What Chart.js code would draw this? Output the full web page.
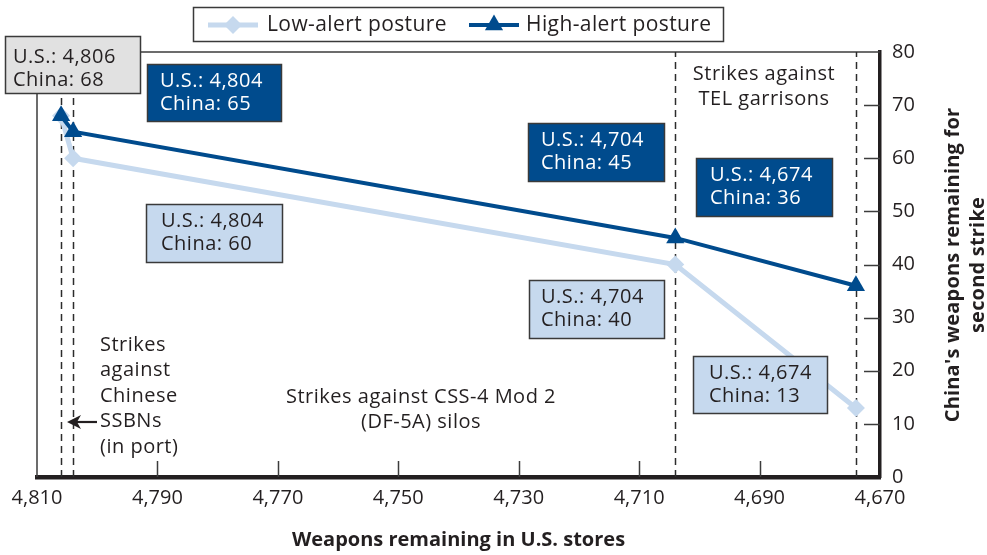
<!DOCTYPE html>
<html>
<head>
<meta charset="utf-8">
<title>Weapons remaining</title>
<script src="https://cdn.jsdelivr.net/npm/chart.js@4.4.0/dist/chart.umd.min.js"></script>
<style>
  body { margin: 0; background: #fff; }
  #wrap { width: 987px; height: 555px; position: relative; }
</style>
</head>
<body>
<div id="wrap"><canvas id="lineChart"></canvas></div>
<script>
var usStores = [4806, 4804, 4704, 4674];
var lowAlert = [68, 60, 40, 13];
var highAlert = [68, 65, 45, 36];
var seriesNames = ['Low-alert posture', 'High-alert posture'];
var xTickValues = [4810, 4790, 4770, 4750, 4730, 4710, 4690, 4670];
var yTickValues = [0, 10, 20, 30, 40, 50, 60, 70, 80];

var DARK = '#231f20';
var FRAME = '#3c3c3c';
var LOW_BLUE = '#c6d9ee';
var HIGH_BLUE = '#004b8d';
var FONT = "'Open Sans', sans-serif";

function fmt(v) {
  return v.toLocaleString('en-US');
}

// value boxes: series index, point index, box rect, text inset
var callouts = [
  { series: 1, index: 0, box: [5, 36, 135, 57], pad: 8, dy: 4, fill: '#e1e1e1', color: DARK },
  { series: 1, index: 1, box: [147, 64, 134, 57], pad: 13, dy: 0, fill: HIGH_BLUE, color: '#fff' },
  { series: 0, index: 1, box: [146, 204, 136, 58], pad: 15, dy: 0, fill: LOW_BLUE, color: DARK },
  { series: 1, index: 2, box: [528, 123, 136, 58], pad: 13, dy: 0, fill: HIGH_BLUE, color: '#fff' },
  { series: 0, index: 2, box: [529, 280, 135, 58], pad: 12, dy: 0, fill: LOW_BLUE, color: DARK },
  { series: 1, index: 3, box: [696, 158, 136, 58], pad: 14, dy: 0, fill: HIGH_BLUE, color: '#fff' },
  { series: 0, index: 3, box: [693, 356, 134, 57], pad: 16, dy: 0, fill: LOW_BLUE, color: DARK }
];

var notes = [
  { lines: ['Strikes against', 'TEL garrisons'], x: 764, y: 74, align: 'center' },
  { lines: ['Strikes against CSS-4 Mod 2', '(DF-5A) silos'], x: 421, y: 397, align: 'center' },
  { lines: ['Strikes', 'against', 'Chinese', 'SSBNs', '(in port)'], x: 100, y: 345, align: 'left' }
];

function toPoints(values) {
  return usStores.map(function (u, i) { return { x: u, y: values[i] }; });
}

function setText(ctx, font, spacing) {
  ctx.font = font;
  if ('letterSpacing' in ctx) ctx.letterSpacing = spacing;
}

var overlay = {
  id: 'overlay',
  beforeDatasetsDraw: function (chart) {
    var ctx = chart.ctx, area = chart.chartArea;
    var xs = chart.scales.x, ys = chart.scales.y;
    ctx.save();
    ctx.strokeStyle = FRAME;
    ctx.lineWidth = 1.5;
    ctx.beginPath();
    ctx.moveTo(area.left, area.bottom);
    ctx.lineTo(area.left, area.top);
    ctx.lineTo(area.right, area.top);
    ctx.stroke();

    // short ticks pointing into the plot
    ctx.beginPath();
    xTickValues.slice(1, -1).forEach(function (v) {
      var px = Math.round(xs.getPixelForValue(v)) + 0.5;
      ctx.moveTo(px, area.bottom);
      ctx.lineTo(px, area.bottom - 16);
    });
    yTickValues.slice(1, -1).forEach(function (v) {
      var py = Math.round(ys.getPixelForValue(v)) + 0.5;
      ctx.moveTo(area.right, py);
      ctx.lineTo(area.right - 16, py);
    });
    ctx.stroke();

    // dashed marker at every strike stage
    ctx.setLineDash([7, 5]);
    ctx.strokeStyle = '#2c2c2c';
    ctx.lineWidth = 1.5;
    usStores.forEach(function (u) {
      var px = Math.round(xs.getPixelForValue(u)) + 0.5;
      ctx.beginPath();
      ctx.moveTo(px, area.bottom);
      ctx.lineTo(px, area.top);
      ctx.stroke();
    });
    ctx.restore();
  },
  afterDatasetsDraw: function (chart) {
    var ctx = chart.ctx;
    ctx.save();
    ctx.textBaseline = 'middle';

    // stage notes
    ctx.fillStyle = DARK;
    setText(ctx, '20px ' + FONT, '0.5px');
    notes.forEach(function (n) {
      ctx.textAlign = n.align;
      n.lines.forEach(function (t, i) {
        ctx.fillText(t, n.x, n.y + i * 25.5);
      });
    });

    // arrow to the SSBN strike line
    ctx.strokeStyle = DARK;
    ctx.lineWidth = 2.2;
    ctx.beginPath();
    ctx.moveTo(97, 422);
    ctx.lineTo(75, 422);
    ctx.stroke();
    ctx.beginPath();
    ctx.moveTo(67, 422);
    ctx.lineTo(81, 415);
    ctx.lineTo(77, 422);
    ctx.lineTo(81, 429);
    ctx.closePath();
    ctx.fill();

    // value boxes
    var series = [lowAlert, highAlert];
    ctx.textAlign = 'left';
    callouts.forEach(function (c) {
      var b = c.box;
      ctx.fillStyle = c.fill;
      ctx.fillRect(b[0], b[1], b[2], b[3]);
      ctx.strokeStyle = '#3a3a3a';
      ctx.lineWidth = 1.5;
      ctx.strokeRect(b[0] + 0.5, b[1] + 0.5, b[2], b[3]);
      var cy = b[1] + b[3] / 2 + c.dy;
      ctx.fillStyle = c.color;
      setText(ctx, '20px ' + FONT, '0.5px');
      ctx.fillText('U.S.: ' + fmt(usStores[c.index]), b[0] + c.pad, cy - 11.5);
      ctx.fillText('China: ' + series[c.series][c.index], b[0] + c.pad, cy + 11.5);
    });

    // legend
    var ds = chart.data.datasets;
    ctx.fillStyle = '#fff';
    ctx.fillRect(193, 7, 530, 34);
    ctx.strokeStyle = '#3a3a3a';
    ctx.lineWidth = 1.5;
    ctx.strokeRect(193.5, 7.5, 530, 34);
    var ly = 25;
    [[208, 267], [469, 526]].forEach(function (pos, i) {
      var d = ds[i];
      ctx.strokeStyle = d.borderColor;
      ctx.lineWidth = d.borderWidth;
      ctx.beginPath();
      ctx.moveTo(pos[0], ly);
      ctx.lineTo(pos[0] + 50, ly);
      ctx.stroke();
      ctx.fillStyle = d.backgroundColor;
      Chart.helpers.drawPoint(ctx, {
        pointStyle: d.pointStyle, radius: d.pointRadius, rotation: 0, borderWidth: 0
      }, pos[0] + 25, ly);
      ctx.fillStyle = DARK;
      setText(ctx, '21px ' + FONT, '0.4px');
      ctx.textAlign = 'left';
      ctx.fillText(d.label, pos[1], ly);
    });

    // right axis title, reading upward
    ctx.save();
    ctx.translate(953, 265);
    ctx.rotate(-Math.PI / 2);
    ctx.textAlign = 'center';
    ctx.fillStyle = DARK;
    setText(ctx, 'bold 20px ' + FONT, '0.2px');
    ctx.fillText("China's weapons remaining for", 0, 0);
    ctx.fillText('second strike', 0, 25);
    ctx.restore();

    ctx.restore();
  }
};

var ctx = document.getElementById('lineChart').getContext('2d');
var chart = new Chart(ctx, {
  type: 'line',
  data: {
    datasets: [{
      label: seriesNames[0],
      data: toPoints(lowAlert),
      borderColor: LOW_BLUE,
      backgroundColor: LOW_BLUE,
      borderWidth: 5,
      pointStyle: 'rectRot',
      pointRadius: 9,
      pointBorderWidth: 0,
      tension: 0,
      order: 2
    }, {
      label: seriesNames[1],
      data: toPoints(highAlert),
      borderColor: HIGH_BLUE,
      backgroundColor: HIGH_BLUE,
      borderWidth: 4,
      pointStyle: 'triangle',
      pointRadius: 10.5,
      pointBorderWidth: 0,
      tension: 0,
      order: 1
    }]
  },
  options: {
    responsive: true,
    maintainAspectRatio: false,
    animation: false,
    clip: false,
    layout: { padding: { left: 37, top: 52, right: 0, bottom: 0 } },
    plugins: {
      legend: { display: false },
      tooltip: { enabled: false }
    },
    scales: {
      x: {
        type: 'linear',
        reverse: true,
        min: 4670,
        max: 4810,
        afterBuildTicks: function (scale) {
          scale.ticks = xTickValues.map(function (v) { return { value: v }; });
        },
        afterFit: function (scale) { scale.height = 78; },
        grid: { display: true, drawOnChartArea: false, drawTicks: false },
        border: { display: true, color: DARK, width: 4.5 },
        ticks: {
          color: DARK,
          padding: 9,
          maxRotation: 0,
          font: { family: FONT, size: 20 },
          callback: function (v) { return fmt(v); }
        },
        title: {
          display: true,
          text: 'Weapons remaining in U.S. stores',
          color: DARK,
          padding: { top: 0, bottom: 3 },
          font: { family: FONT, size: 20, weight: 'bold' }
        }
      },
      y: {
        position: 'right',
        min: 0,
        max: 80,
        afterBuildTicks: function (scale) {
          scale.ticks = yTickValues.map(function (v) { return { value: v }; });
        },
        afterFit: function (scale) { scale.width = 107; },
        grid: { display: true, drawOnChartArea: false, drawTicks: false },
        border: { display: true, color: DARK, width: 3.5 },
        ticks: {
          color: DARK,
          padding: 12,
          font: { family: FONT, size: 20 }
        }
      }
    }
  },
  plugins: [overlay]
});
</script>
</body>
</html>
